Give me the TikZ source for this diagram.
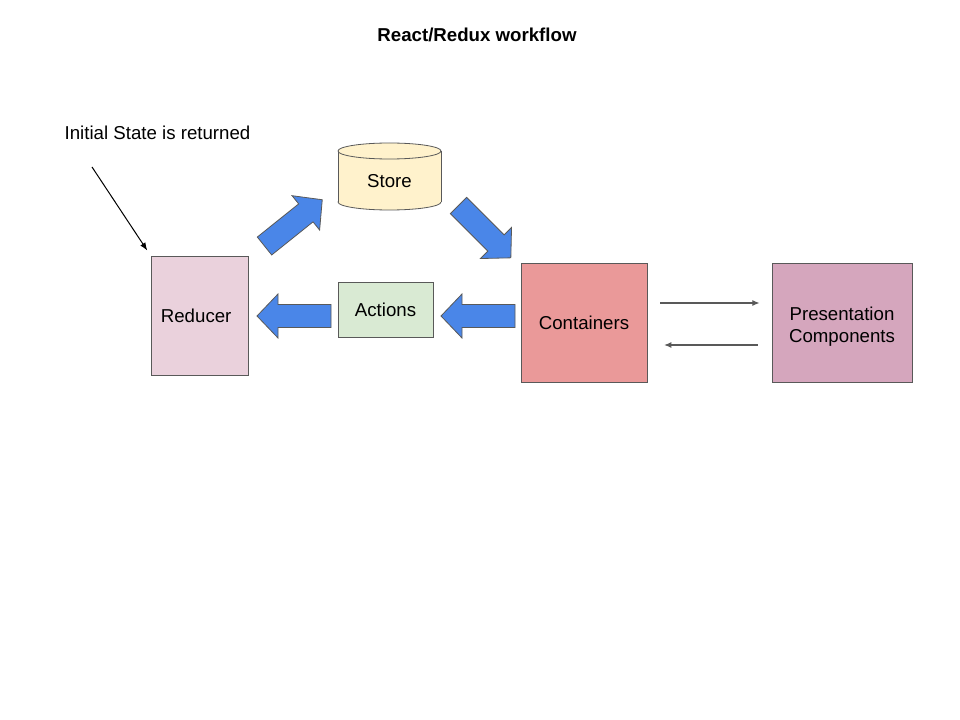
\documentclass[tikz,border=0pt]{standalone}
\usepackage{fontspec}
\setmainfont{Liberation Sans}
\usetikzlibrary{arrows.meta}

\definecolor{linegray}{HTML}{595959}
\definecolor{fatblue}{HTML}{4A86E8}
\definecolor{storeyellow}{HTML}{FFF2CC}
\definecolor{reducerpink}{HTML}{EAD1DC}
\definecolor{actiongreen}{HTML}{D9EAD3}
\definecolor{containerred}{HTML}{EA9999}
\definecolor{presmauve}{HTML}{D5A6BD}

\tikzset{
	box/.style={draw=linegray, line width=0.6pt, inner sep=0pt, align=center,
		font=\fontsize{14}{16.5}\selectfont},
	label/.style={inner sep=0pt, align=center, font=\fontsize{14}{16.5}\selectfont},
	thinarrow/.style={draw=linegray, line width=0.9pt, -{Latex[length=5.5pt,width=4.5pt]}},
	fatarrow/.pic={
		\draw[draw=linegray, line width=0.6pt, fill=fatblue]
			(0,-11.5) -- (53,-11.5) -- (53,-22) -- (74,0) -- (53,22) -- (53,11.5) -- (0,11.5) -- cycle;
	}
}

\begin{document}
\begin{tikzpicture}[x=0.75pt,y=-0.75pt]

	%Background
	\fill[white] (0,0) rectangle (960,720);
	\useasboundingbox (0,0) rectangle (960,720);

	%Title
	\node[label, font=\fontsize{14}{16.5}\selectfont\bfseries] (title) at (477,35) {React/Redux workflow};

	%Initial state
	\node[label] (init) at (157.5,133) {Initial State is returned};
	\coordinate (inittail) at (92,167);

	%Store
	\draw[draw=linegray, line width=0.6pt, fill=storeyellow] (389.5,202) ellipse [x radius=51.5, y radius=8];
	\fill[storeyellow] (338,151) rectangle (441,202);
	\draw[draw=linegray, line width=0.6pt] (338,151) -- (338,202) (441,151) -- (441,202);
	\draw[draw=linegray, line width=0.6pt, fill=storeyellow] (389.5,151) ellipse [x radius=51.5, y radius=8];
	\node[label] (store) at (389.5,181) {Store};

	%Boxes
	\node[box, fill=reducerpink, minimum width=72.75pt, minimum height=89.25pt] (reducer) at (199.5,315.5) {Reducer\hspace*{5pt}};
	\node[box, fill=actiongreen, minimum width=71.25pt, minimum height=41.25pt] (actions) at (385.5,309.5) {Actions};
	\node[box, fill=containerred, minimum width=94.5pt, minimum height=89.25pt] (containers) at (584,322.5) {Containers};
	\node[box, fill=presmauve, minimum width=105pt, minimum height=89.25pt] (presentation) at (842,322.5) {};
	\node[label, text depth=0pt] (prestext) at (842,324.5) {Presentation\\Components};

	%Fat arrows
	\pic[rotate=38.7] at (264.5,246) {fatarrow};
	\pic[rotate=-45] at (458.5,205.5) {fatarrow};
	\pic[rotate=180] at (515,316) {fatarrow};
	\pic[rotate=180] at (331,316) {fatarrow};

	%Thin arrows
	\draw[thinarrow, shorten <=9.75pt, shorten >=9pt] (containers.east |- 0,303) -- (presentation.west |- 0,303);
	\draw[thinarrow, shorten <=10.5pt, shorten >=12.5pt] (presentation.west |- 0,345) -- (containers.east |- 0,345);
	\draw[black, line width=0.75pt, -{Latex[length=6pt,width=4.5pt]}, shorten >=4.5pt] (inittail) -- (reducer.north west);

\end{tikzpicture}
\end{document}
